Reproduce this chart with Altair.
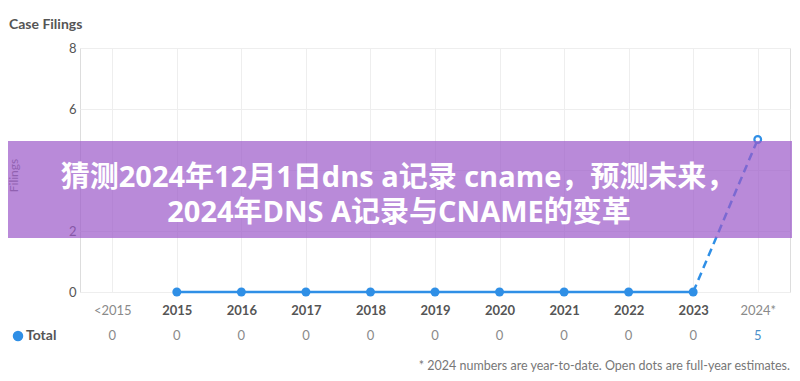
import altair as alt
import pandas as pd

years = ["<2015", "2015", "2016", "2017", "2018", "2019", "2020", "2021", "2022", "2023", "2024*"]
totals = [0, 0, 0, 0, 0, 0, 0, 0, 0, 0, 5]
solid_years = ["2015", "2016", "2017", "2018", "2019", "2020", "2021", "2022", "2023"]
solid_vals = [0, 0, 0, 0, 0, 0, 0, 0, 0]
dash_years = ["2023", "2024*"]
dash_vals = [0, 5]
est_years = ["2024*"]
est_vals = [5]
title_line1 = "猜测2024年12月1日dns a记录 cname，预测未来，"
title_line2 = "2024年DNS A记录与CNAME的变革"
footnote = "* 2024 numbers are year-to-date. Open dots are full-year estimates."

BLUE = "#2f8fe6"
FONT = "Lato"
BFONT = "Open Sans, Noto Sans CJK SC"

solid_df = pd.DataFrame({"year": solid_years, "v": solid_vals})
dash_df = pd.DataFrame({"year": dash_years, "v": dash_vals})
est_df = pd.DataFrame({"year": est_years, "v": est_vals})
tot_df = pd.DataFrame({"year": years, "v": totals,
                       "est": [y == "2024*" for y in years]})

xs = alt.Scale(domain=years, type="point", padding=0.5)
ys = alt.Scale(domain=[0, 8])

xaxis = alt.Axis(
    title=None, domain=False, ticks=False, labelAngle=0, labelPadding=12,
    labelFontSize=13, labelFont=FONT, grid=True, gridColor="#eeeeee",
    labelColor=alt.ExprRef("datum.value == '<2015' || datum.value == '2024*' ? '#8a8a8a' : '#555555'"),
    labelFontWeight=alt.ExprRef("datum.value == '<2015' || datum.value == '2024*' ? 'normal' : 'bold'"),
)
yaxis = alt.Axis(
    title="Filings", values=[0, 2, 4, 6, 8], domain=False, ticks=False,
    labelExpr="datum.value == 4 ? '' : datum.label",
    labelFontSize=13, labelFont=FONT, labelColor="#555555", labelPadding=4,
    gridColor="#eeeeee", titleFont=FONT, titleFontSize=12, titleColor="#777777",
    titleFontWeight="normal", titleX=-60, titleY=127, titleAngle=-90,
)

X = alt.X("year:N", scale=xs, sort=years)
Y = alt.Y("v:Q", scale=ys)

line = alt.Chart(solid_df).mark_line(color=BLUE, strokeWidth=2.5).encode(
    x=alt.X("year:N", scale=xs, axis=xaxis, sort=years),
    y=alt.Y("v:Q", scale=ys, axis=yaxis))
pts = alt.Chart(solid_df).mark_circle(color=BLUE, size=80, opacity=1).encode(x=X, y=Y)
dash = alt.Chart(dash_df).mark_line(color=BLUE, strokeWidth=2.5, strokeDash=[8, 5]).encode(x=X, y=Y)
est = alt.Chart(est_df).mark_point(color=BLUE, size=45, filled=True, fill="white",
                                    stroke=BLUE, strokeWidth=2.2, opacity=1).encode(x=X, y=Y)

tot_text = alt.Chart(tot_df).mark_text(fontSize=13, font=FONT).encode(
    x=X,
    y=alt.value(288),
    text="v:Q",
    color=alt.condition("datum.est", alt.value("#4a8fc9"), alt.value("#8a8a8a")),
)

legend_dot = alt.Chart(pd.DataFrame({"k": ["Total"]})).mark_circle(
    color=BLUE, size=110, opacity=1).encode(x=alt.value(-62), y=alt.value(288))
legend_txt = alt.Chart(pd.DataFrame({"k": ["Total"]})).mark_text(
    align="left", fontSize=14, font=FONT, fontWeight="bold", color="#555555").encode(
    x=alt.value(-54), y=alt.value(288), text="k:N")

foot = alt.Chart(pd.DataFrame({"t": [footnote]})).mark_text(
    align="right", fontSize=12.5, font=FONT, color="#777777").encode(
    x=alt.value(710), y=alt.value(318), text="t:N")

head = alt.Chart(pd.DataFrame({"t": ["Case Filings"]})).mark_text(
    align="left", fontSize=14, font=FONT, fontWeight="bold", color="#555555").encode(
    x=alt.value(-71), y=alt.value(-23), text="t:N")

banner = alt.Chart(pd.DataFrame({"k": [1]})).mark_rect(
    color="#9b59c9", opacity=0.7).encode(
    x=alt.value(-80), x2=alt.value(720), y=alt.value(93), y2=alt.value(190))

bt1 = alt.Chart(pd.DataFrame({"t": [title_line1]})).mark_text(
    fontSize=29, fontWeight="bold", color="white", font=BFONT,
    align="center", baseline="middle").encode(
    x=alt.value(318), y=alt.value(130), text="t:N")
bt2 = alt.Chart(pd.DataFrame({"t": [title_line2]})).mark_text(
    fontSize=29, fontWeight="bold", color="white", font=BFONT,
    align="center", baseline="middle").encode(
    x=alt.value(319), y=alt.value(165), text="t:N")

chart = alt.layer(line, pts, dash, est, tot_text, legend_dot, legend_txt, foot, head,
                  banner, bt1, bt2).properties(
    width=710, height=244,
    padding={"left": 72, "top": 40, "right": 2, "bottom": 80},
    autosize=alt.AutoSizeParams(type="none"),
).configure_view(stroke=None).configure(background="white")

chart.save("out.html", embed_options={"renderer": "svg", "actions": False})
